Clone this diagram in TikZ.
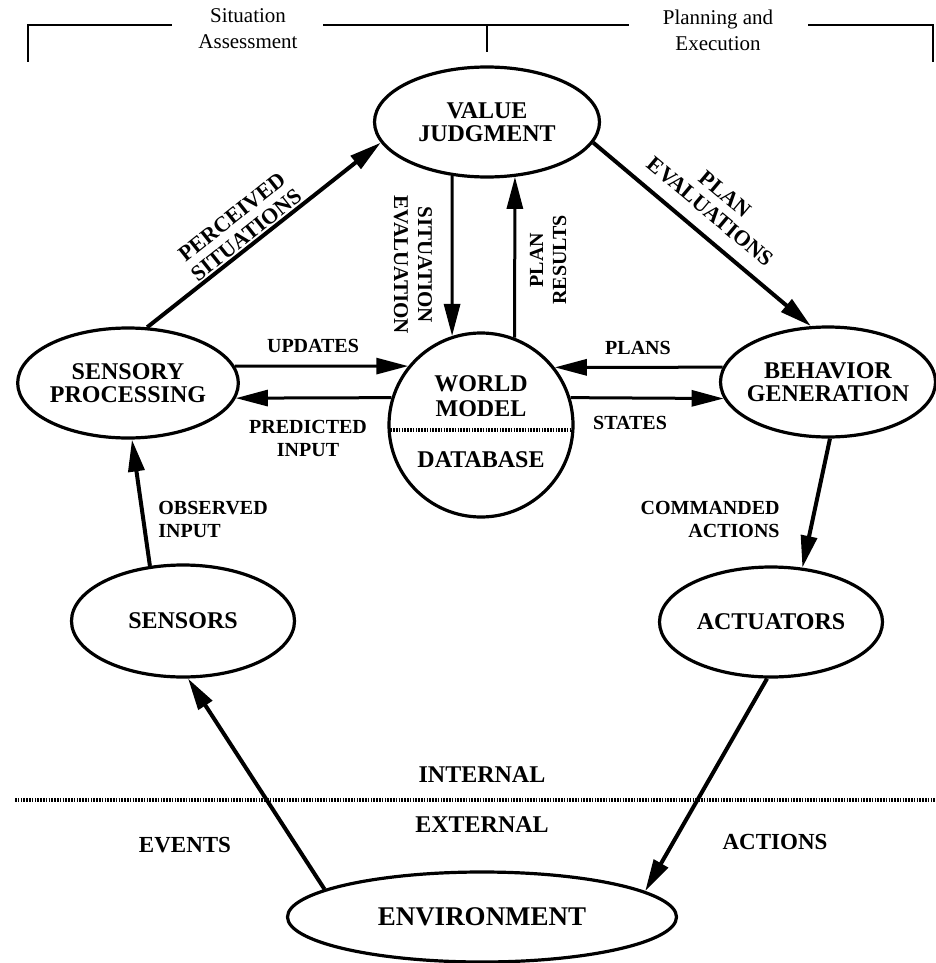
\documentclass[tikz,border=0pt]{standalone}
\usepackage{fontspec}
\setmainfont{Liberation Serif}
\usetikzlibrary{shapes.geometric,arrows.meta}

\begin{document}
\begin{tikzpicture}[x=0.5pt,y=-0.5pt,
nodes={align=center},
module/.style={ellipse,draw,line width=1.6pt,inner sep=0pt,
  font=\fontsize{12}{11.8}\selectfont\bfseries},
modtext/.style={inner sep=0pt,font=\fontsize{12}{12.5}\selectfont\bfseries},
lbl/.style={inner sep=0pt,font=\fontsize{10}{11.5}\selectfont\bfseries},
head/.style={inner sep=0pt,font=\fontsize{10.5}{13}\selectfont},
flow/.style={-{Triangle[length=16pt,width=8pt]},line width=1.5pt},
mainflow/.style={flow,line width=2pt},
dotline/.style={line width=1.6pt,dash pattern=on 0.8pt off 0.6pt}]

\useasboundingbox (0,0) rectangle (936,963);

% Header
\node[head] (hsit) at (248,29) {Situation\\Assessment};
\node[head] (hplan) at (718,30) {Planning and\\Execution};
\draw[line width=1pt] (28,62) -- (28,25) -- (172,25);
\draw[line width=1pt] (323,25) -- (629,25);
\draw[line width=1.2pt] (487,25) -- (487,52);
\draw[line width=1pt] (808,25) -- (933,25) -- (933,62);

% Nodes
\node[module,minimum width=112.5pt,minimum height=55pt] (vj) at (487,122) {VALUE\\JUDGMENT};
\node[module,minimum width=110pt,minimum height=55pt] (sp) at (128,383) {SENSORY\\PROCESSING};
\node[module,minimum width=107.5pt,minimum height=55pt,inner xsep=-3pt] (bg) at (828,382) {BEHAVIOR\\GENERATION};
\node[circle,draw,line width=1.6pt,minimum size=92pt,inner sep=0pt] (wm) at (481,425) {};
\node[modtext] (wmtop) at (481,396) {WORLD\\MODEL};
\node[modtext] (wmdb) at (481,460) {DATABASE};
\draw[dotline] (wm.183) -- (wm.357);
\node[module,minimum width=111.5pt,minimum height=56pt] (sen) at (183,621) {SENSORS};
\node[module,minimum width=111.5pt,minimum height=55pt] (act) at (771,622) {ACTUATORS};
\node[module,minimum width=194.5pt,minimum height=45pt,
  font=\fontsize{13.5}{14}\selectfont\bfseries] (env) at (482,917) {ENVIRONMENT};

% Internal / external
\draw[dotline] (15,800) -- (936,800);
\node[modtext] (lint) at (482,775) {INTERNAL};
\node[modtext] (lext) at (482,825) {EXTERNAL};

% Connectors
\draw[mainflow] (sp.71) -- (vj.191);
\draw[mainflow] (vj.349) -- (bg.107);
\draw[flow] (vj.237) -- (wm.108);
\draw[flow] (wm.69) -- (vj.297);
\draw[flow] (sp.9) -- (wm.141);
\draw[flow] (wm.163) -- (sp.352);
\draw[flow] (bg.172) -- (wm.38);
\draw[flow] (wm.17) -- (bg.189);
\draw[mainflow] (sen.121) -- (sp.274);
\draw[mainflow] (bg.272) -- (act.60);
\draw[mainflow] (env.170) -- (sen.275);
\draw[mainflow] (act.266) -- (env.9);

% Labels
\node[lbl,font=\fontsize{11}{11.5}\selectfont\bfseries,rotate=38.5] (lperc) at (239,226) {PERCEIVED\\SITUATIONS};
\node[lbl,font=\fontsize{11}{11.5}\selectfont\bfseries,rotate=-40] (lpeval) at (718,203) {PLAN\\EVALUATIONS};
\node[lbl,font=\fontsize{10.5}{12}\selectfont\bfseries,rotate=-90] (lsit) at (413,265) {SITUATION\\EVALUATION};
\node[lbl,rotate=90] (lpres) at (548,260) {PLAN\\RESULTS};
\node[lbl] (lupd) at (313,346) {UPDATES};
\node[lbl] (lpred) at (308,438) {PREDICTED\\INPUT};
\node[lbl] (lplans) at (638,348) {PLANS};
\node[lbl] (lstat) at (630,423) {STATES};
\node[lbl,anchor=west,align=left] (lobs) at (158,519) {OBSERVED\\INPUT};
\node[lbl,anchor=east,align=right] (lcmd) at (780,519) {COMMANDED\\ACTIONS};
\node[lbl,font=\fontsize{11.5}{12}\selectfont\bfseries] (levt) at (185,845) {EVENTS};
\node[lbl,font=\fontsize{11.5}{12}\selectfont\bfseries] (lacts) at (775,842) {ACTIONS};

\end{tikzpicture}
\end{document}
